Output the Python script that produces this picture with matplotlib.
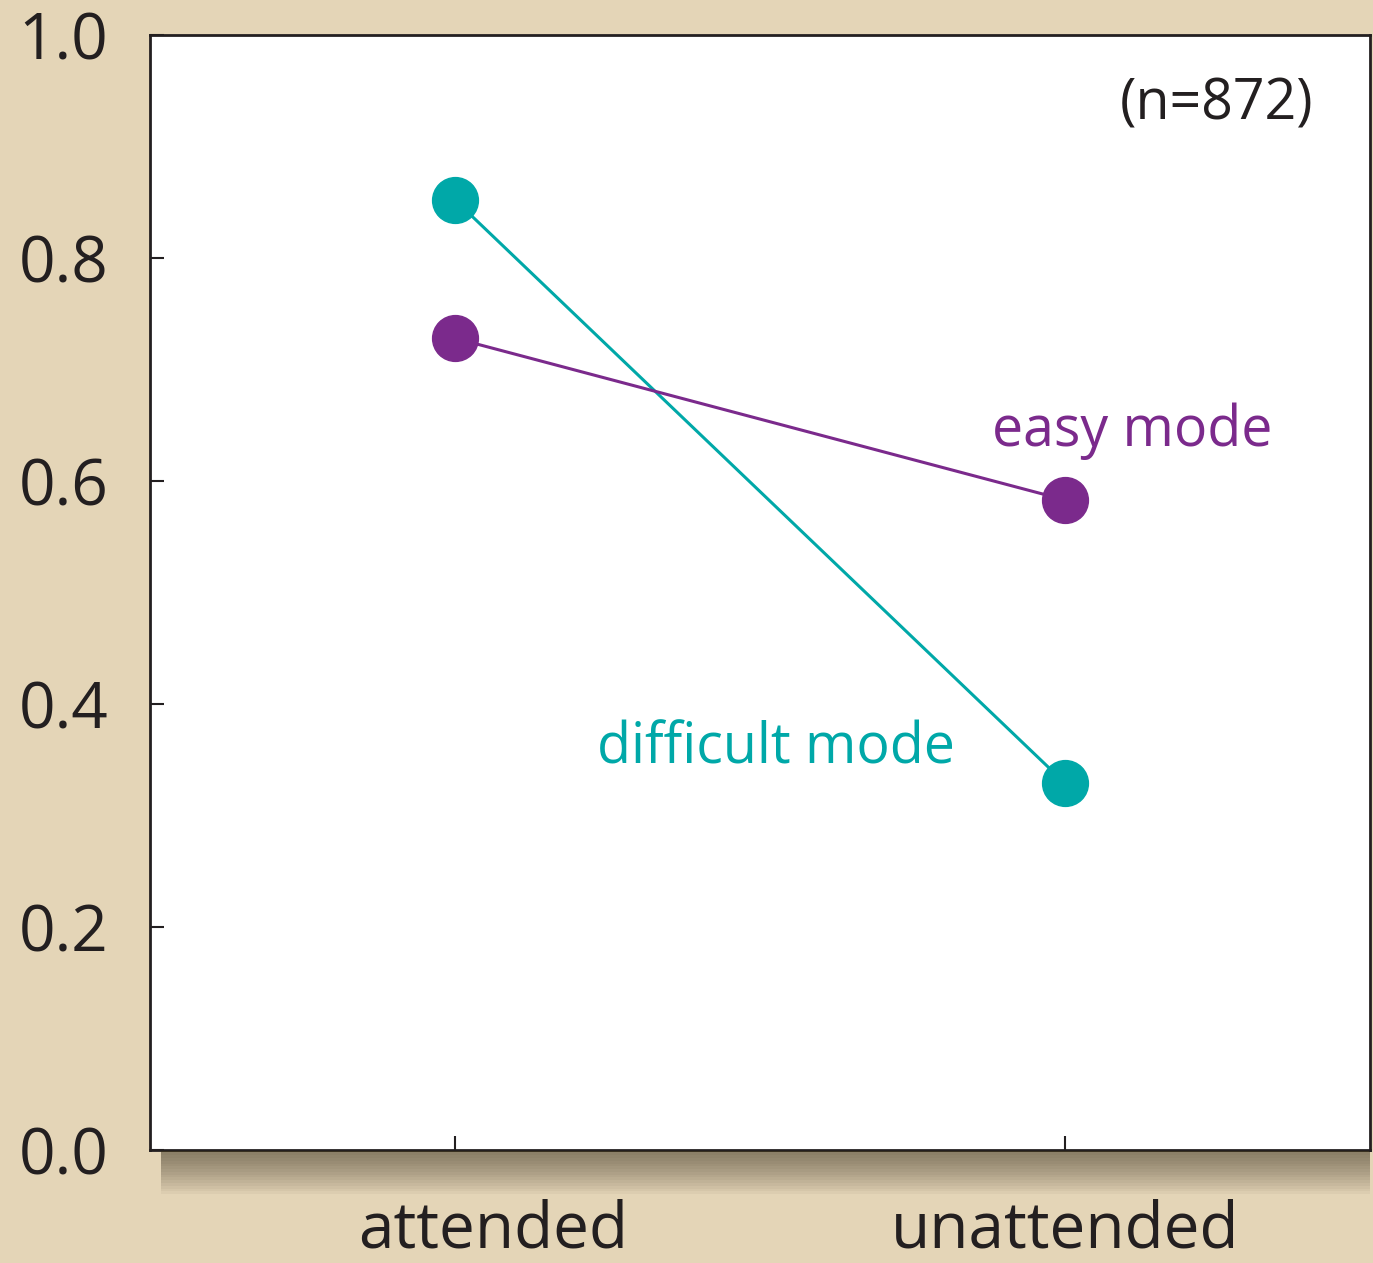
import matplotlib.pyplot as plt
import matplotlib.patches as mpatches
from matplotlib import transforms

plt.rcParams['font.family'] = ['Open Sans', 'DejaVu Sans']

# data
conditions = ['attended', 'unattended']
easy_mode = [0.728, 0.583]
difficult_mode = [0.852, 0.329]
yticks = [0.0, 0.2, 0.4, 0.6, 0.8, 1.0]

teal = '#00a8a8'
purple = '#7b2a8c'
bg = '#e4d5b7'

fig = plt.figure(figsize=(13.73, 12.63), dpi=100, facecolor=bg)
ax = fig.add_axes([0.1093, 0.0895, 0.8885, 0.8828])

# soft shadow under the plot box
for i in range(16):
    off = 0.002 + i * 0.0022
    shadow = mpatches.Rectangle((0.1093 + 0.008, 0.0895 - off), 0.8885 - 0.008, off,
                                transform=fig.transFigure, facecolor='#3a3020',
                                alpha=0.045, edgecolor='none', zorder=0)
    fig.patches.append(shadow)

x = range(len(conditions))
ax.plot(x, difficult_mode, color=teal, lw=2.2, marker='o', ms=33, zorder=3)
ax.plot(x, easy_mode, color=purple, lw=2.2, marker='o', ms=33, zorder=3)

ax.set_xlim(-0.5, 1.5)
ax.set_ylim(0, 1.0)
ax.set_yticks(yticks)
ax.set_yticklabels([f'{v:.1f}' for v in yticks])
ax.set_xticks(list(x))
ax.set_xticklabels(conditions)

ax.tick_params(axis='y', direction='in', length=10, width=1.5, pad=30,
               labelsize=46, colors='#231f20')
ax.tick_params(axis='x', direction='in', length=10, width=1.5, pad=35,
               labelsize=46, colors='#231f20')
for s in ax.spines.values():
    s.set_linewidth(2)
    s.set_color('#231f20')

# shift the first label a little to the right, as in the original layout
lab = ax.get_xticklabels()[0]
lab.set_transform(lab.get_transform() + transforms.ScaledTranslation(0.38, 0, fig.dpi_scale_trans))

ax.text(0.954, 0.937, '(n=872)', transform=ax.transAxes, ha='right', va='center',
        fontsize=40, color='#231f20')
ax.text(1.34, 0.645, 'easy mode', color=purple, fontsize=40, ha='right', va='center')
ax.text(0.82, 0.36, 'difficult mode', color=teal, fontsize=40, ha='right', va='center')

fig.savefig('out.png', dpi=100, facecolor=bg)
